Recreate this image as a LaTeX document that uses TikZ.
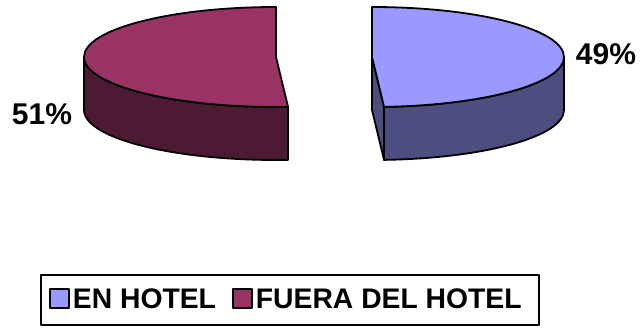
\documentclass[tikz,border=0pt]{standalone}
\usepackage{fontspec}
\setmainfont{Liberation Sans}
\usetikzlibrary{positioning}
\definecolor{enTop}{HTML}{9999FF}
\definecolor{enSide}{HTML}{4D4D80}
\definecolor{fueraTop}{HTML}{993366}
\definecolor{fueraSide}{HTML}{4D1A33}
\begin{document}
\begin{tikzpicture}
  [x=1pt,y=1pt,line join=round,
   slice/.style={draw=black,line width=1.8pt},
   pct/.style={inner sep=0pt,font=\fontsize{30}{33}\selectfont\bfseries},
   key/.style={draw=black,line width=1.5pt,minimum size=19pt,inner sep=0pt},
   keytext/.style={inner sep=0pt,anchor=west,font=\fontsize{28.3}{31}\selectfont\bfseries}]
  \useasboundingbox (0,0) rectangle (643,327);
  % pie centres
  \coordinate (cF) at (276,270);
  \coordinate (cE) at (372,270);

  % FUERA DEL HOTEL: side, then top
  \filldraw[slice,fill=fueraSide] (84,270) -- (84,217)
     arc[start angle=180,end angle=273.6,x radius=192,y radius=50]
     -- ++(0,53)
     arc[start angle=273.6,end angle=180,x radius=192,y radius=50] -- cycle;
  \filldraw[slice,fill=fueraTop] (cF) -- ++(0,50)
     arc[start angle=90,end angle=273.6,x radius=192,y radius=50] -- cycle;

  % EN HOTEL: cut face, side, then top
  \filldraw[slice,fill=enSide] (cE) -- ++(0,-53) -- ++(12.06,-49.9) -- ++(0,53) -- cycle;
  \filldraw[slice,fill=enSide] (564,270) -- (564,217)
     arc[start angle=360,end angle=273.6,x radius=192,y radius=50]
     -- ++(0,53)
     arc[start angle=273.6,end angle=360,x radius=192,y radius=50] -- cycle;
  \filldraw[slice,fill=enTop] (cE) -- ++(0,50)
     arc[start angle=90,end angle=-86.4,x radius=192,y radius=50] -- cycle;

  \node[pct] (pctEn) at (606,273) {49\%};
  \node[pct] (pctFuera) at (42,213) {51\%};

  % legend
  \node[draw=black,line width=1.8pt,minimum width=498pt,minimum height=50pt,inner sep=0pt]
     (legend) at (290,27) {};
  \node[key,fill=enTop] (keyEn) at (59.5,28.5) {};
  \node[keytext,right=3pt of keyEn] (txtEn) {EN HOTEL};
  \node[key,fill=fueraTop] (keyFuera) at (242.5,28.5) {};
  \node[keytext,right=3pt of keyFuera] (txtFuera) {FUERA DEL HOTEL};
\end{tikzpicture}
\end{document}
